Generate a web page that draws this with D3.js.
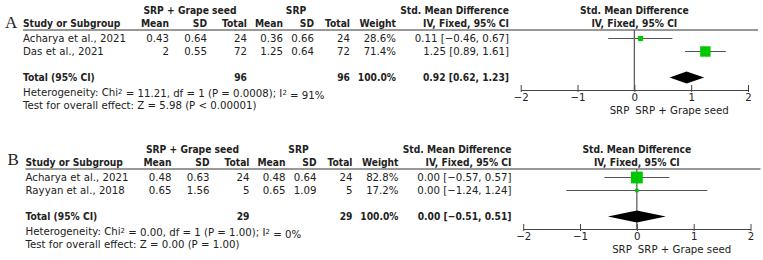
<!DOCTYPE html>
<html>
<head>
<meta charset="utf-8">
<script src="https://cdn.jsdelivr.net/npm/d3@7"></script>
<style>
  body { margin: 0; background: #fff; }
  svg text { font-family: "DejaVu Sans", sans-serif; font-size: 10.2px; fill: #222; }
  .bold { font-weight: bold; font-stretch: condensed; font-family: "DejaVu Sans Condensed", "DejaVu Sans", sans-serif; font-size: 10.2px; }
</style>
</head>
<body>
<div id="chart"></div>
<script>
// panel A data
const studiesA = ["Acharya et al., 2021", "Das et al., 2021"];
const expMeanA = ["0.43", "2"];
const expSdA = ["0.64", "0.55"];
const expNA = [24, 72];
const ctlMeanA = ["0.36", "1.25"];
const ctlSdA = ["0.66", "0.64"];
const ctlNA = [24, 72];
const weightA = [28.6, 71.4];
const smdA = [0.11, 1.25];
const loA = [-0.46, 0.89];
const hiA = [0.67, 1.61];
const totalA = {expN: 96, ctlN: 96, smd: 0.92, lo: 0.62, hi: 1.23};
const hetA = {chi: "11.21", df: 1, p: "0.0008", i2: "91%"};
const testA = "Test for overall effect: Z = 5.98 (P < 0.00001)";

// panel B data
const studiesB = ["Acharya et al., 2021", "Rayyan et al., 2018"];
const expMeanB = ["0.48", "0.65"];
const expSdB = ["0.63", "1.56"];
const expNB = [24, 5];
const ctlMeanB = ["0.48", "0.65"];
const ctlSdB = ["0.64", "1.09"];
const ctlNB = [24, 5];
const weightB = [82.8, 17.2];
const smdB = [0.00, 0.00];
const loB = [-0.57, -1.24];
const hiB = [0.57, 1.24];
const totalB = {expN: 29, ctlN: 29, smd: 0.00, lo: -0.51, hi: 0.51};
const hetB = {chi: "0.00", df: 1, p: "1.00", i2: "0%"};
const testB = "Test for overall effect: Z = 0.00 (P = 1.00)";

const xTicks = [-2, -1, 0, 1, 2];

const svg = d3.select("#chart").append("svg")
    .attr("width", 763)
    .attr("height", 260);

const f2 = d3.format(".2f");
const ci = (m, l, h) => `${f2(m)} [${f2(l)}, ${f2(h)}]`.replace(/-/g, "\u2212");
const sqSize = d3.scaleLinear().domain([0, 100]).range([1.5, 14]);

function panel(label, dx, dy, d) {
  const g = svg.append("g").attr("transform", `translate(${dx},${dy})`);
  const txt = (x, y, s, anchor, cls) => g.append("text")
      .attr("x", x).attr("y", y).attr("dy", "0.35em")
      .attr("text-anchor", anchor || "start")
      .attr("class", cls || null)
      .text(s);

  g.append("text").attr("x", 5).attr("y", 22 + (label == "B" ? -2 : 0)).attr("dy", "0.35em")
    .style("font-family", "'Liberation Serif', serif").style("font-size", "17px")
    .text(label);

  // headers
  txt(190, 10.7, "SRP + Grape seed", "middle", "bold");
  txt(296, 10.7, "SRP", "middle", "bold");
  txt(509, 10.7, "Std. Mean Difference", "end", "bold");
  txt(23, 23.5, "Study or Subgroup", "start", "bold");
  txt(169, 23.5, "Mean", "end", "bold");
  txt(207, 23.5, "SD", "end", "bold");
  txt(247, 23.5, "Total", "end", "bold");
  txt(283, 23.5, "Mean", "end", "bold");
  txt(314, 23.5, "SD", "end", "bold");
  txt(350, 23.5, "Total", "end", "bold");
  txt(396, 23.5, "Weight", "end", "bold");
  txt(509, 23.5, "IV, Fixed, 95% CI", "end", "bold");

  g.append("line").attr("x1", 23).attr("x2", 758).attr("y1", 30).attr("y2", 30)
    .attr("stroke", "#333").attr("stroke-width", 1);

  const x = d3.scaleLinear().domain([-2, 2]).range([520.7, 748]);
  txt(x(0), 10.7, "Std. Mean Difference", "middle", "bold");
  txt(x(0), 23.5, "IV, Fixed, 95% CI", "middle", "bold");

  const rowY = d3.scalePoint().domain(d.studies).range([38.5, 51.5]);

  d.studies.forEach((s, i) => {
    const y = rowY(s);
    txt(23, y, s);
    txt(169, y, d.expMean[i], "end");
    txt(207, y, d.expSd[i], "end");
    txt(247, y, d.expN[i], "end");
    txt(283, y, d.ctlMean[i], "end");
    txt(314, y, d.ctlSd[i], "end");
    txt(350, y, d.ctlN[i], "end");
    txt(396, y, d3.format(".1f")(d.weight[i]) + "%", "end");
    txt(509, y, ci(d.smd[i], d.lo[i], d.hi[i]), "end");
  });

  const yTot = 77.5;
  txt(23, yTot, "Total (95% CI)", "start", "bold");
  txt(247, yTot, d.total.expN, "end", "bold");
  txt(350, yTot, d.total.ctlN, "end", "bold");
  txt(396, yTot, "100.0%", "end", "bold");
  txt(509, yTot, ci(d.total.smd, d.total.lo, d.total.hi), "end", "bold");

  const het = g.append("text").attr("x", 23).attr("y", 92.8).attr("dy", "0.35em");
  het.append("tspan").text("Heterogeneity: Chi");
  het.append("tspan").attr("dy", "-0.35em").style("font-size", "7px").text("2");
  het.append("tspan").attr("dy", "0.35em")
    .text(` = ${d.het.chi}, df = ${d.het.df} (P = ${d.het.p}); I`);
  het.append("tspan").attr("dy", "-0.35em").style("font-size", "7px").text("2");
  het.append("tspan").attr("dy", "0.35em").text(` = ${d.het.i2}`);
  txt(23, 105.5, d.test);

  // forest plot
  const axisY = 90;
  g.append("line").attr("x1", x(0)).attr("x2", x(0)).attr("y1", 30).attr("y2", axisY)
    .attr("stroke", "#555").attr("stroke-width", 1.2);

  g.selectAll(".whisker").data(d.studies).join("line")
    .attr("x1", (s, i) => x(d.lo[i])).attr("x2", (s, i) => x(d.hi[i]))
    .attr("y1", s => rowY(s)).attr("y2", s => rowY(s))
    .attr("stroke", "#555").attr("stroke-width", 1.2);

  g.selectAll(".box").data(d.studies).join("rect")
    .attr("x", (s, i) => x(d.smd[i]) - sqSize(d.weight[i]) / 2)
    .attr("y", (s, i) => rowY(s) - sqSize(d.weight[i]) / 2)
    .attr("width", (s, i) => sqSize(d.weight[i]))
    .attr("height", (s, i) => sqSize(d.weight[i]))
    .attr("fill", "#00c800");

  const h = 6;
  g.append("path")
    .attr("d", `M${x(d.total.lo)},${yTot} L${x(d.total.smd)},${yTot - h} L${x(d.total.hi)},${yTot} L${x(d.total.smd)},${yTot + h} Z`)
    .attr("fill", "#000");

  const ax = g.append("g")
    .attr("transform", `translate(0,${axisY})`)
    .call(d3.axisBottom(x).tickValues(xTicks).tickFormat(d3.format("d"))
      .tickSizeInner(-5).tickSizeOuter(0).tickPadding(4));
  ax.select(".domain").attr("stroke", "#444");
  ax.selectAll(".tick line").attr("stroke", "#444").attr("y1", 2);
  ax.selectAll(".tick text").style("font-size", "10.2px").attr("font-family", null).attr("fill", "#222");

  txt(x(0) - 5, 110, "SRP", "end");
  txt(x(0) + 1, 110, "SRP + Grape seed", "start");
}

panel("A", 0, 0, {
  studies: studiesA, expMean: expMeanA, expSd: expSdA, expN: expNA,
  ctlMean: ctlMeanA, ctlSd: ctlSdA, ctlN: ctlNA, weight: weightA,
  smd: smdA, lo: loA, hi: hiA, total: totalA, het: hetA, test: testA
});
panel("B", 2.5, 139, {
  studies: studiesB, expMean: expMeanB, expSd: expSdB, expN: expNB,
  ctlMean: ctlMeanB, ctlSd: ctlSdB, ctlN: ctlNB, weight: weightB,
  smd: smdB, lo: loB, hi: hiB, total: totalB, het: hetB, test: testB
});
</script>
</body>
</html>
